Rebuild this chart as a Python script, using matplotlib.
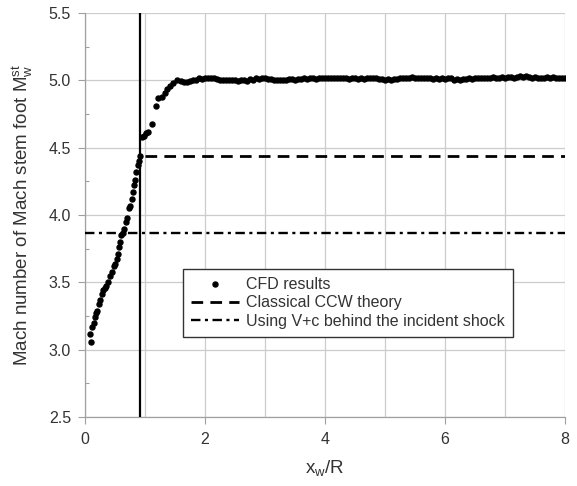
import matplotlib
matplotlib.use("Agg")
import matplotlib.pyplot as plt
from matplotlib.ticker import MultipleLocator

plt.rcParams['font.family'] = ['Liberation Sans', 'DejaVu Sans']
plt.rcParams['mathtext.fontset'] = 'custom'
plt.rcParams['mathtext.rm'] = 'Liberation Sans'
plt.rcParams['mathtext.it'] = 'Liberation Sans'

# ---- data ----
rise_x = [0.10, 0.08, 0.12, 0.15, 0.17, 0.19, 0.21, 0.24, 0.26, 0.29, 0.31, 0.34,
          0.36, 0.38, 0.42, 0.45, 0.48, 0.50, 0.53, 0.55, 0.57, 0.59, 0.61, 0.63,
          0.66, 0.68, 0.71, 0.73, 0.76, 0.78, 0.80, 0.82, 0.84, 0.86, 0.88, 0.90, 0.92]
rise_y = [3.06, 3.12, 3.17, 3.20, 3.24, 3.27, 3.29, 3.34, 3.37, 3.41, 3.44, 3.46,
          3.47, 3.50, 3.55, 3.58, 3.62, 3.64, 3.67, 3.71, 3.76, 3.80, 3.85, 3.87,
          3.90, 3.95, 3.98, 4.05, 4.07, 4.12, 4.17, 4.22, 4.26, 4.32, 4.37, 4.40, 4.44]
jump_x = [0.95, 0.98, 1.02, 1.05, 1.12, 1.18, 1.22, 1.28, 1.33, 1.37, 1.42, 1.47, 1.53]
jump_y = [4.58, 4.59, 4.61, 4.62, 4.68, 4.81, 4.87, 4.88, 4.91, 4.94, 4.96, 4.98, 5.00]
flat_x = [1.60, 1.65, 1.70, 1.75, 1.80, 1.85, 1.90, 1.95, 2.00, 2.05, 2.10, 2.15,
          2.20, 2.25, 2.30, 2.35, 2.40, 2.45, 2.50, 2.55, 2.60, 2.65, 2.70, 2.75,
          2.80, 2.85, 2.90, 2.95, 3.00, 3.05, 3.10, 3.15, 3.20, 3.25, 3.30, 3.35,
          3.40, 3.45, 3.50, 3.55, 3.60, 3.65, 3.70, 3.75, 3.80, 3.85, 3.90, 3.95,
          4.00, 4.05, 4.10, 4.15, 4.20, 4.25, 4.30, 4.35, 4.40, 4.45, 4.50, 4.55,
          4.60, 4.65, 4.70, 4.75, 4.80, 4.85, 4.90, 4.95, 5.00, 5.05, 5.10, 5.15,
          5.20, 5.25, 5.30, 5.35, 5.40, 5.45, 5.50, 5.55, 5.60, 5.65, 5.70, 5.75,
          5.80, 5.85, 5.90, 5.95, 6.00, 6.05, 6.10, 6.15, 6.20, 6.25, 6.30, 6.35,
          6.40, 6.45, 6.50, 6.55, 6.60, 6.65, 6.70, 6.75, 6.80, 6.85, 6.90, 6.95,
          7.00, 7.05, 7.10, 7.15, 7.20, 7.25, 7.30, 7.35, 7.40, 7.45, 7.50, 7.55,
          7.60, 7.65, 7.70, 7.75, 7.80, 7.85, 7.90, 7.95, 8.00]
flat_y = [4.995, 4.985, 4.985, 4.995, 5.005, 5.005, 5.015, 5.010, 5.020, 5.015, 5.020, 5.015,
          5.010, 5.005, 5.005, 5.000, 5.005, 5.000, 5.000, 4.995, 5.005, 5.000, 4.995, 5.010,
          5.005, 5.015, 5.010, 5.015, 5.020, 5.010, 5.010, 5.005, 5.005, 5.000, 5.005, 5.005,
          5.010, 5.010, 5.005, 5.010, 5.010, 5.015, 5.010, 5.020, 5.015, 5.010, 5.015, 5.020,
          5.015, 5.020, 5.020, 5.020, 5.015, 5.020, 5.015, 5.015, 5.010, 5.015, 5.015, 5.010,
          5.015, 5.010, 5.015, 5.015, 5.020, 5.015, 5.010, 5.010, 5.005, 5.010, 5.005, 5.010,
          5.010, 5.015, 5.015, 5.020, 5.015, 5.025, 5.020, 5.015, 5.015, 5.020, 5.015, 5.015,
          5.010, 5.015, 5.010, 5.015, 5.010, 5.015, 5.020, 5.005, 5.010, 5.005, 5.010, 5.010,
          5.015, 5.010, 5.015, 5.015, 5.020, 5.015, 5.020, 5.020, 5.025, 5.020, 5.020, 5.025,
          5.020, 5.025, 5.025, 5.020, 5.025, 5.030, 5.025, 5.030, 5.025, 5.020, 5.025, 5.020,
          5.020, 5.020, 5.025, 5.020, 5.025, 5.020, 5.020, 5.015, 5.020]

cfd_x = rise_x + jump_x + flat_x
cfd_y = rise_y + jump_y + flat_y

ccw_value = 4.435
ccw_start = 1.0
vc_value = 3.865
wall_x = 0.92

x_lim = (0, 8)
y_lim = (2.5, 5.5)

# ---- figure ----
fig = plt.figure(figsize=(5.77, 4.86), dpi=100)
ax = fig.add_axes([0.147, 0.142, 0.832, 0.831])

gray = '#333333'
ax.set_xlim(*x_lim)
ax.set_ylim(*y_lim)
ax.xaxis.set_major_locator(MultipleLocator(2))
ax.xaxis.set_minor_locator(MultipleLocator(1))
ax.yaxis.set_major_locator(MultipleLocator(0.5))
ax.yaxis.set_minor_locator(MultipleLocator(0.25))
ax.grid(True, which='major', color='#cccccc', linewidth=0.9)
ax.grid(True, which='minor', axis='x', color='#cccccc', linewidth=0.9)

for s in ['top', 'right']:
    ax.spines[s].set_visible(False)
for s in ['left', 'bottom']:
    ax.spines[s].set_color('#a0a0a0')
    ax.spines[s].set_linewidth(0.9)

ax.tick_params(which='major', length=5, width=0.8, color='#a0a0a0',
               labelsize=11.5, labelcolor=gray, direction='out')
ax.tick_params(axis='x', which='major', pad=6)
ax.tick_params(axis='y', which='major', pad=5)
ax.tick_params(which='minor', length=3, width=0.8, color='#a0a0a0', direction='in')
ax.tick_params(axis='x', which='minor', length=0)

ax.axvline(wall_x, color='black', linewidth=1.6, zorder=3)
ax.plot([ccw_start, x_lim[1]], [ccw_value, ccw_value], color='black', linewidth=2.0,
        dashes=(4.2, 2.6), label='Classical CCW theory', zorder=3)
ax.plot([x_lim[0], x_lim[1]], [vc_value, vc_value], color='black', linewidth=1.7,
        dashes=(4.0, 1.9, 1.3, 1.9), label='Using V+c behind the incident shock', zorder=3)
ax.plot(cfd_x, cfd_y, linestyle='none', marker='o', markersize=3.6, color='black',
        label='CFD results', zorder=4)

handles, labels = ax.get_legend_handles_labels()
order = [2, 0, 1]
leg = ax.legend([handles[i] for i in order], [labels[i] for i in order],
                loc='upper left', bbox_to_anchor=(0.204, 0.366), fontsize=11.5,
                frameon=True, fancybox=False, edgecolor='#333333', framealpha=1,
                handlelength=3.0, borderpad=0.5, labelspacing=0.2, handletextpad=0.45,
                borderaxespad=0)
leg.get_frame().set_linewidth(1.0)
for t in leg.get_texts():
    t.set_color(gray)

ax.set_xlabel(r'x$_\mathregular{w}$/R', fontsize=13.5, color=gray, labelpad=8)
ax.set_ylabel(r'Mach number of Mach stem foot M$_\mathregular{w}^\mathregular{st}$',
              fontsize=13.5, color=gray, labelpad=10)

fig.savefig('out.png', dpi=100)
